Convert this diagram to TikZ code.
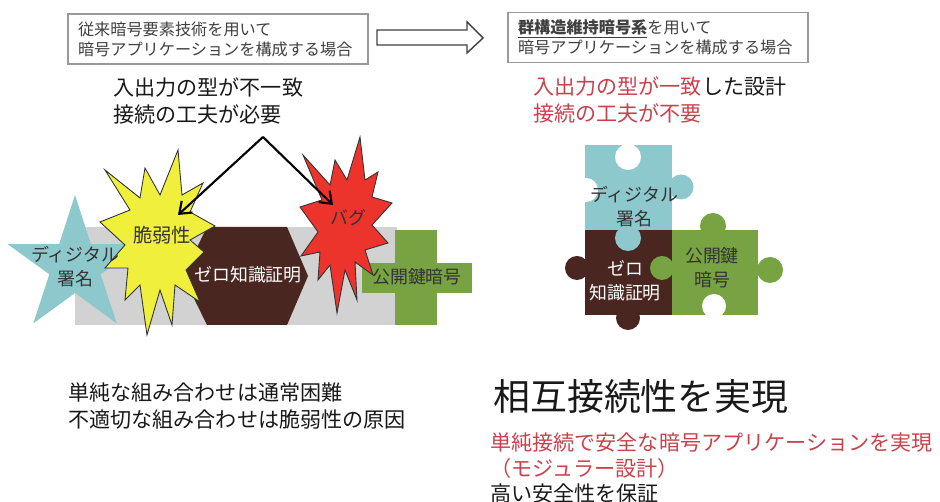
\documentclass[tikz,border=0pt]{standalone}
\usepackage{fontspec}
\setmainfont{Noto Sans CJK JP}
\usetikzlibrary{arrows.meta, positioning}

\definecolor{keyteal}{RGB}{141,200,204}
\definecolor{keybrown}{RGB}{74,38,32}
\definecolor{keygreen}{RGB}{120,163,66}
\definecolor{burstyellow}{RGB}{240,240,60}
\definecolor{burstred}{RGB}{236,52,44}
\definecolor{bandgray}{RGB}{210,210,210}
\definecolor{warnred}{RGB}{200,66,76}
\definecolor{boxtext}{RGB}{64,64,64}

\begin{document}
\begin{tikzpicture}[x=0.02cm, y=-0.02cm,
    casebox/.style={draw=gray!80, line width=0.8pt, fill=white, text=boxtext, align=left,
                    text width=5.6cm, inner xsep=0.2cm, minimum height=1cm,
                    font=\fontsize{9.2}{11.3}\selectfont},
    note/.style={anchor=west, align=left, inner sep=0, text=black!90,
                 font=\fontsize{12}{15.5}\selectfont},
    piecetext/.style={align=center, inner sep=0, text=black!80,
                      font=\fontsize{10.2}{13.6}\selectfont},
    burst/.style={draw=black!80, line width=0.5pt},
    hit/.style={-{Straight Barb[length=6pt, width=9pt]}, line width=1.2pt}]

   \useasboundingbox (0,0) rectangle (940,502);

   % Headings
      \node[casebox] (conv) at (218,39)   {従来暗号要素技術を用いて\\暗号アプリケーションを構成する場合};
      \node[casebox] (grp)  at (658,37.5) {\textbf{\underline{群構造維持暗号系}}を用いて\\暗号アプリケーションを構成する場合};
      \draw[fill=white, draw=black!75, line width=0.8pt]
         (377,30) -- (467,30) -- (467,22) -- (483,38) -- (467,53) -- (467,45) -- (377,45) -- cycle;

      \node[note] (mismatch) at (113,101) {入出力の型が不一致\\接続の工夫が必要};
      \node[note] (match)    at (533,100) {\textcolor{warnred}{入出力の型が一致}した設計\\\textcolor{warnred}{接続の工夫が不要}};

   % Ad hoc combination
      \fill[bandgray] (75,227) rectangle (397,325);
      \begin{scope}[shift={(75,266)}]
         \fill[keyteal] (-90:71) \foreach \k in {1,...,9} { -- ({-90+36*\k}:{71-44*isodd(\k)}) } -- cycle;
      \end{scope}
      \fill[keybrown] (183,276) -- (207,227) -- (287,227) -- (308,276) -- (287,325) -- (207,325) -- cycle;
      \fill[keygreen] (395,230) rectangle (437,325);
      \fill[keygreen] (362,263) rectangle (472,293);

      \filldraw[burst, fill=burstyellow]
         (178,150) -- (182,195) -- (203,183) -- (190,212) -- (215,226) -- (190,240)
         -- (204,252) -- (186,270) -- (200,302) -- (175,285) -- (172,325) -- (160,290)
         -- (147,335) -- (140,285) -- (125,300) -- (128,268) -- (105,268) -- (125,245)
         -- (100,222) -- (130,210) -- (105,170) -- (140,198) -- (145,168) -- (160,195) -- cycle;
      \filldraw[burst, fill=burstred]
         (360,137) -- (365,180) -- (378,172) -- (372,197) -- (392,203) -- (372,225)
         -- (388,243) -- (365,250) -- (373,275) -- (355,262) -- (357,300) -- (345,270)
         -- (337,313) -- (330,265) -- (318,280) -- (320,252) -- (301,256) -- (318,232)
         -- (300,207) -- (322,200) -- (303,155) -- (330,185) -- (335,160) -- (347,180) -- cycle;

      \node[piecetext] (sigL) at (75,267)  {ディジタル\\署名};
      \node[piecetext, font=\fontsize{11}{13}\selectfont] (vul) at (162,235) {脆弱性};
      \node[piecetext, text=white] (zkL) at (248,275) {ゼロ知識証明};
      \node[piecetext] (bug) at (348,218) {バグ};
      \node[piecetext] (pkL) at (417,277) {公開鍵暗号};

      \coordinate (apex)   at (263,137);
      \coordinate (vulhit) at (178,215);
      \coordinate (bughit) at (333,205);
      \draw[hit] (apex) -- (vulhit);
      \draw[hit] (apex) -- (bughit);

      \node[note] (hard) at (68,406) {単純な組み合わせは通常困難\\不適切な組み合わせは脆弱性の原因};

   % Puzzle pieces
      \fill[keyteal]  (585,145) rectangle (672,230);
      \fill[keybrown] (585,230) rectangle (672,315);
      \fill[keygreen] (672,230) rectangle (758,315);
      \fill[keyteal]  (681,187) circle (12.5);
      \fill[keyteal]  (628,238) circle (13);
      \fill[keybrown] (577,268) circle (12);
      \fill[keybrown] (628,318) circle (12);
      \fill[keygreen] (662,268) circle (12);
      \fill[keygreen] (713,226) circle (13);
      \fill[keygreen] (770,270) circle (13);
      \fill[white] (628,157) circle (13);
      \fill[white] (586,190) circle (12);
      \fill[white] (714,306) circle (12);

      \node[piecetext] (sigR) at (634,207) {ディジタル\\署名};
      \node[piecetext, text=white] (zkR) at (625,281) {ゼロ\\知識証明};
      \node[piecetext] (pkR) at (712,268) {公開鍵\\暗号};

   % Outcome
      \node[anchor=west, inner sep=0, text=black!90, font=\fontsize{21}{25}\selectfont] (goal) at (493,397) {相互接続性を実現};
      \node[note, font=\fontsize{12}{14.5}\selectfont] (modular) at (490,468)
         {\textcolor{warnred}{単純接続で安全な暗号アプリケーションを実現}\\\textcolor{warnred}{（モジュラー設計）}\\高い安全性を保証};
\end{tikzpicture}
\end{document}
